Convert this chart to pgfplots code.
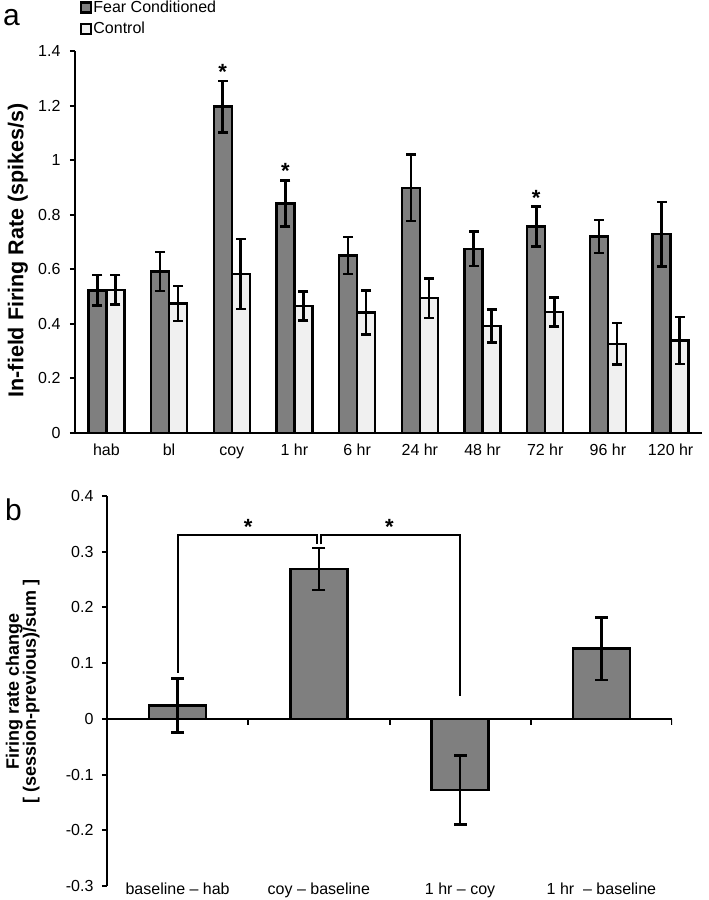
\documentclass[border=0pt]{standalone}
\usepackage{pgfplots}
\pgfplotsset{compat=1.18}
\usepackage{pgfplotstable}
\usepackage{fontspec}
\setmainfont{Liberation Sans}
\definecolor{fcgray}{HTML}{7F7F7F}
\definecolor{ctlgray}{HTML}{F0F0F0}
\pgfplotstableread{
x fc c
0 0.523 0.525
1 0.592 0.475
2 1.196 0.583
3 0.841 0.466
4 0.651 0.441
5 0.899 0.494
6 0.675 0.392
7 0.757 0.444
8 0.720 0.327
9 0.729 0.339
}\toptable
% error-bar ends (low, high) for each bar
\pgfplotstableread{
x y
0 0.467
0 0.579
0 nan
1 0.521
1 0.663
1 nan
2 1.102
2 1.290
2 nan
3 0.757
3 0.925
3 nan
4 0.583
4 0.719
4 nan
5 0.777
5 1.021
5 nan
6 0.612
6 0.738
6 nan
7 0.683
7 0.831
7 nan
8 0.660
8 0.780
8 nan
9 0.611
9 0.847
}\fcwhisk
\pgfplotstableread{
x y
0 0.471
0 0.579
0 nan
1 0.411
1 0.539
1 nan
2 0.455
2 0.711
2 nan
3 0.413
3 0.519
3 nan
4 0.360
4 0.522
4 nan
5 0.421
5 0.567
5 nan
6 0.332
6 0.452
6 nan
7 0.391
7 0.497
7 nan
8 0.251
8 0.403
8 nan
9 0.253
9 0.425
}\cwhisk
\pgfplotstableread{
x y
0 0.024
1 0.269
2 -0.128
3 0.126
}\bottable
\pgfplotstableread{
x y
0 -0.024
0 0.072
0 nan
1 0.231
1 0.307
1 nan
2 -0.190
2 -0.066
2 nan
3 0.070
3 0.182
}\botwhisk
\newcommand{\sixteen}{\fontsize{16}{19}\selectfont}
\pgfplotsset{
  whisk/.style={forget plot, black, solid, line width=2.6pt, unbounded coords=jump,
    mark=-, mark size=#1, mark options={line width=2.6pt, black, solid}},
}
\begin{document}
\begin{tikzpicture}
\useasboundingbox (0,0) rectangle (709pt,-900pt);
\node[anchor=base west, font=\fontsize{30}{30}\selectfont, inner sep=0pt] at (3pt,-25pt) {a};
\node[anchor=base west, font=\fontsize{30}{30}\selectfont, inner sep=0pt] at (5pt,-520pt) {b};
\begin{axis}[
  at={(75pt,-433pt)}, anchor=south west,
  width=627pt, height=382pt, scale only axis,
  xmin=-0.5, xmax=9.5, ymin=0, ymax=1.4,
  axis lines=left, axis line style={-, line width=2.2pt},
  tick align=outside, major tick length=5pt, minor tick length=5pt,
  every tick/.style={black, line width=2pt},
  ytick={0,0.2,0.4,0.6,0.8,1,1.2,1.4},
  yticklabels={0,0.2,0.4,0.6,0.8,1,1.2,1.4},
  xtick={0,...,9},
  xticklabels={hab,bl,coy,1 hr,6 hr,24 hr,48 hr,72 hr,96 hr,120 hr},
  xtick style={draw=none},
  minor xtick={-0.5,0.5,...,9.5},
  tick label style={font=\sixteen},
  yticklabel style={xshift=-6pt},
  xticklabel style={yshift=-2pt, text height=11.5pt, text depth=3.5pt},
  ylabel={\bfseries In-field Firing Rate (spikes/s)},
  ylabel style={at={(axis description cs:-0.091,0.478)}, anchor=center, font=\fontsize{21.5}{22}\selectfont},
  legend style={at={(axis description cs:0.008,1.134)}, anchor=north west, draw=none, fill=none,
    font=\sixteen, inner sep=0pt, row sep=6pt, nodes={inner sep=1pt}},
  legend cell align=left,
  legend image code/.code={\draw[#1, line width=2.2pt] (-0.5pt,-5pt) rectangle (9.5pt,5pt);},
]
\addplot[ybar, bar width=18pt, bar shift=-9pt, fill=fcgray, draw=black, line width=2.4pt] table[x=x, y=fc] {\toptable};
\addplot[ybar, bar width=18pt, bar shift=9pt, fill=ctlgray, draw=black, line width=2.4pt] table[x=x, y=c] {\toptable};
\legend{Fear Conditioned, Control}
\addplot[whisk=5pt] table[x expr=\thisrow{x}-0.1435, y=y] {\fcwhisk};
\addplot[whisk=5pt] table[x expr=\thisrow{x}+0.1435, y=y] {\cwhisk};
\node[font=\fontsize{22}{22}\selectfont\bfseries, xshift=-9pt] at (axis cs:2,1.325) {*};
\node[font=\fontsize{22}{22}\selectfont\bfseries, xshift=-9pt] at (axis cs:3,0.961) {*};
\node[font=\fontsize{22}{22}\selectfont\bfseries, xshift=-9pt] at (axis cs:7,0.862) {*};
\end{axis}
\begin{axis}[
  at={(107pt,-886pt)}, anchor=south west,
  width=565pt, height=390pt, scale only axis,
  xmin=-0.5, xmax=3.5, ymin=-0.3, ymax=0.4,
  axis y line=left, axis x line=bottom,
  x axis line style={draw=none}, y axis line style={-, line width=2.2pt},
  tick align=outside, major tick length=5pt,
  every tick/.style={black, line width=2pt},
  ytick={-0.3,-0.2,-0.1,0,0.1,0.2,0.3,0.4},
  yticklabels={-0.3,-0.2,-0.1,0,0.1,0.2,0.3,0.4},
  xtick={0,1,2,3},
  xticklabels={baseline -- hab, coy -- baseline, 1 hr -- coy, 1 hr\ \ -- baseline},
  xtick style={draw=none},
  tick label style={font=\sixteen},
  yticklabel style={xshift=-5pt},
  xticklabel style={yshift=12pt, text height=11.5pt, text depth=3.5pt},
  ylabel={\bfseries Firing rate change\\\bfseries {[} (session-previous)/sum {]}},
  ylabel style={at={(axis description cs:-0.149,0.5)}, anchor=center, align=center, font=\fontsize{18}{17}\selectfont},
]
\addplot[ybar, bar width=57pt, bar shift=0pt, fill=fcgray, draw=black, line width=2.4pt] table[x=x, y=y] {\bottable};
\addplot[whisk=6.5pt] table[x=x, y=y] {\botwhisk};
\draw[line width=2.2pt] (axis cs:-0.5,0) -- (axis cs:3.5,0);
\pgfplotsinvokeforeach{0.5,1.5,2.5,3.5}{\draw[line width=2pt] (axis cs:#1,0) -- ([yshift=-6pt]axis cs:#1,0);}
\draw[line width=2pt] (axis cs:0,0.083) -- (axis cs:0,0.33) -- (axis cs:0.985,0.33) -- (axis cs:0.985,0.313);
\draw[line width=2pt] (axis cs:1.015,0.313) -- (axis cs:1.015,0.33) -- (axis cs:2,0.33) -- (axis cs:2,0.041);
\node[font=\fontsize{22}{22}\selectfont\bfseries] at (axis cs:0.5,0.345) {*};
\node[font=\fontsize{22}{22}\selectfont\bfseries] at (axis cs:1.5,0.345) {*};
\end{axis}
\end{tikzpicture}
\end{document}
